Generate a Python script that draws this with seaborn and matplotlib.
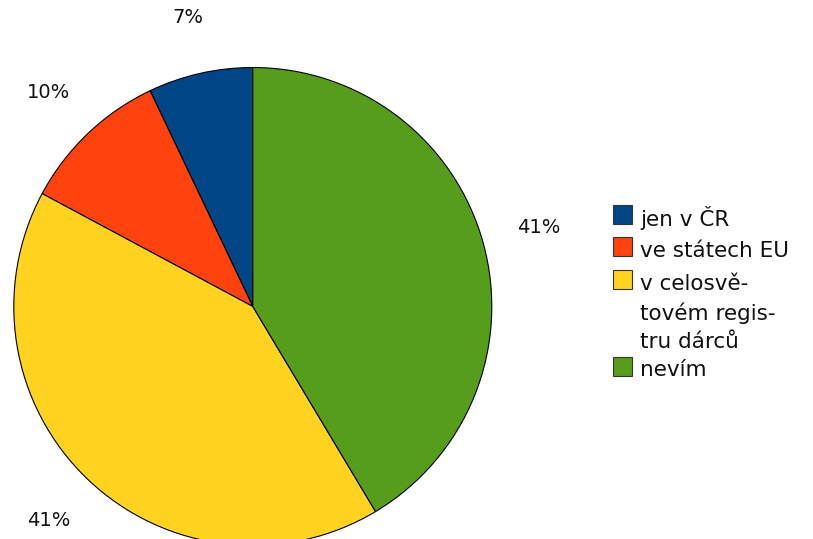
import matplotlib
matplotlib.use("Agg")
import matplotlib.pyplot as plt
from matplotlib.patches import Rectangle
import seaborn as sns

# Survey answers and their shares (percent)
categories = ["jen v ČR", "ve státech EU", "v celosvě-\ntovém regis-\ntru dárců", "nevím"]
values = [7, 10, 41, 41]
colors = ["#004586", "#ff420e", "#ffd320", "#579d1c"]

sns.set_theme(style="white")
plt.rcParams["font.family"] = ["DejaVu Sans"]

W, H = 813, 539
fig = plt.figure(figsize=(W / 100, H / 100), dpi=100)
ax = fig.add_axes([0, 0, 1, 1])

# pie centre and radius in pixels
cx, cy, r = 252.8, 306.5, 239.0

wedges, _, autotexts = ax.pie(
    values,
    colors=colors,
    startangle=90,
    counterclock=True,
    radius=1.0,
    autopct=lambda p: f"{p:.0f}%",
    pctdistance=1.24,
    wedgeprops=dict(edgecolor="black", linewidth=0.8),
    textprops=dict(fontsize=14, color="#111111"),
)

ax.set_xlim(-cx / r, (W - cx) / r)
ax.set_ylim(-(H - cy) / r, cy / r)
ax.set_aspect("auto")
ax.axis("off")

# legend drawn at the right side
def fx(px):
    return px / W

def fy(py):
    return 1 - py / H

sq = 19
rows = [  # (square top, baseline of the last text line)
    (205, 226),
    (237, 257),
    (270, 348),
    (357, 376),
]
for (top, base), label, col in zip(rows, categories, colors):
    fig.patches.append(Rectangle((fx(612.5), fy(top + sq)), sq / W, sq / H,
                                 transform=fig.transFigure, facecolor=col,
                                 edgecolor="#333333", linewidth=0.8))
    fig.text(fx(640), fy(base), label, fontsize=15.5, va="baseline", ha="left",
             color="#111111", linespacing=1.48)

fig.savefig("out.png", dpi=100)
